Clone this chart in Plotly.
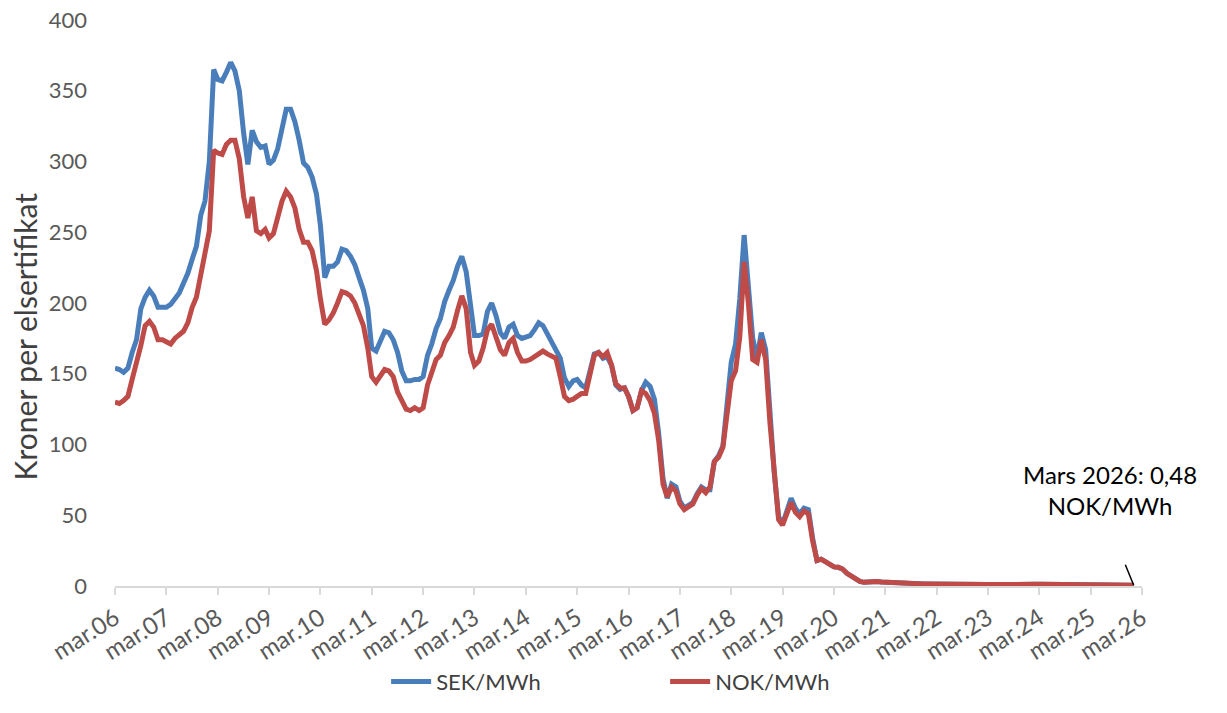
import pandas as pd
import plotly.graph_objects as go

# Monthly values from March 2006 onwards (kroner per elsertifikat)
sek_mwh = [
    154, 153, 151, 154, 165, 174, 196, 204, 209, 205, 197, 197,
    197, 199, 203, 207, 214, 221, 231, 240, 262, 272, 300, 365,
    358, 357, 363, 370, 364, 350, 320, 298, 322, 314, 310, 311,
    298, 301, 309, 322, 337, 337, 328, 315, 299, 296, 289, 277,
    255, 218, 226, 226, 229, 238, 237, 233, 227, 218, 209, 196,
    168, 166, 173, 180, 179, 174, 165, 152, 145, 145, 146, 146,
    148, 163, 171, 182, 189, 201, 209, 216, 226, 233, 222, 197,
    177, 177, 178, 194, 200, 191, 179, 175, 183, 185, 177, 175,
    176, 177, 181, 186, 184, 178, 173, 168, 161, 147, 141, 145,
    146, 142, 140, 152, 164, 165, 161, 162, 156, 142, 139, 140,
    134, 124, 126, 138, 144, 141, 132, 108, 76, 62, 72, 70,
    60, 55, 57, 59, 65, 70, 68, 68, 88, 92, 99, 130,
    158, 171, 203, 248, 215, 175, 161, 179, 167, 121, 80, 49,
    44, 53, 62, 55, 51, 55, 54, 34, 18, 19, 17, 15,
    13.5, 13.2, 12, 9, 7, 5, 3.3, 2.6, 3.0, 3.2, 3.1, 2.8,
    2.6, 2.4, 2.2, 2.0, 1.9, 1.8, 1.7, 1.6, 1.6, 1.5, 1.5, 1.4,
    1.4, 1.3, 1.3, 1.2, 1.1, 1.1, 1.0, 1.0, 0.9, 0.9, 0.9, 0.9,
    1.0, 1.0, 1.1, 1.1, 1.2, 1.2, 1.2, 1.2, 1.2, 1.2, 1.2, 1.2,
    1.2, 1.2, 1.2, 1.2, 1.2, 1.2, 1.2, 1.2, 1.2, 1.2, 1.2, 1.2,
    1.1, 1.0, 1.0, 0.9, 0.9, 0.8, 0.8, 0.7, 0.6, 0.6, 0.5,
]

nok_mwh = [
    130, 129, 131, 134, 146, 157, 170, 184, 187, 183, 174, 174,
    173, 171, 175, 177, 180, 186, 197, 204, 220, 231, 251, 308,
    306, 305, 312, 315, 315, 302, 275, 260, 275, 251, 249, 252,
    246, 249, 260, 272, 279, 275, 267, 252, 243, 243, 237, 223,
    203, 185, 188, 193, 200, 208, 207, 205, 200, 193, 184, 168,
    148, 144, 148, 153, 152, 148, 137, 131, 125, 124, 126, 124,
    126, 142, 152, 160, 163, 172, 177, 183, 195, 205, 196, 165,
    156, 159, 168, 181, 185, 177, 167, 163, 172, 175, 165, 159,
    159, 160, 162, 165, 166, 164, 162, 161, 148, 134, 131, 132,
    134, 136, 136, 148, 163, 165, 162, 165, 156, 143, 140, 140,
    134, 124, 126, 138, 136, 131, 122, 103, 72, 63, 70, 67,
    58, 54, 56, 58, 64, 69, 66, 70, 88, 91, 98, 125,
    145, 152, 176, 229, 200, 160, 158, 174, 160, 116, 77, 47,
    43, 51, 59, 52, 49, 53, 51, 32, 18, 19, 17, 15,
    13.5, 13.2, 12, 9, 7, 5, 3.3, 2.6, 3.0, 3.2, 3.1, 2.8,
    2.6, 2.4, 2.2, 2.0, 1.9, 1.8, 1.7, 1.6, 1.6, 1.5, 1.5, 1.4,
    1.4, 1.3, 1.3, 1.2, 1.1, 1.1, 1.0, 1.0, 0.9, 0.9, 0.9, 0.9,
    1.0, 1.0, 1.1, 1.1, 1.2, 1.2, 1.2, 1.2, 1.2, 1.2, 1.2, 1.2,
    1.2, 1.2, 1.2, 1.2, 1.2, 1.2, 1.2, 1.2, 1.2, 1.2, 1.2, 1.2,
    1.1, 1.0, 1.0, 0.9, 0.9, 0.8, 0.8, 0.7, 0.6, 0.6, 0.48,
]

start_month = "2006-03-01"
tick_dates = [f"{y}-03-01" for y in range(2006, 2027)]
tick_labels = [f"mar.{str(y)[2:]}" for y in range(2006, 2027)]

series_names = ["SEK/MWh", "NOK/MWh"]
series_colors = ["#4A7EBB", "#BE4B48"]

dates = pd.date_range(start_month, periods=len(sek_mwh), freq="MS")

font_family = "Lato, 'Open Sans', sans-serif"
tick_color = "#595959"

fig = go.Figure()
for name, vals, col in zip(series_names, [sek_mwh, nok_mwh], series_colors):
    fig.add_trace(go.Scatter(
        x=dates, y=vals, mode="lines", name=name,
        line=dict(color=col, width=5),
    ))

last_date = dates[-1]
last_val = nok_mwh[-1]

fig.add_annotation(
    x=last_date, y=last_val, xref="x", yref="y",
    text="", showarrow=True, arrowhead=0, arrowwidth=1.5,
    arrowcolor="black", ax=-9, ay=-22,
)
fig.add_annotation(
    x=last_date, y=68, xref="x", yref="y",
    text="Mars 2026: 0,48<br>NOK/MWh", showarrow=False,
    xshift=-24, font=dict(family=font_family, size=24, color="black"),
    align="center",
)
fig.add_annotation(
    x=0, y=0.441, xref="paper", yref="paper",
    xanchor="center", yanchor="middle", xshift=-90,
    text="Kroner per elsertifikat", textangle=-90, showarrow=False,
    font=dict(family=font_family, size=30, color="#404040"),
)

fig.update_layout(
    width=1227, height=713,
    margin=dict(l=115, r=85, t=20, b=126),
    paper_bgcolor="white", plot_bgcolor="white",
    font=dict(family=font_family, color=tick_color),
    showlegend=True,
    legend=dict(
        orientation="h", x=0.264, xanchor="left", y=-0.167, yanchor="middle",
        font=dict(size=22, color="#404040"),
        entrywidth=224, entrywidthmode="pixels", itemwidth=40,
    ),
    xaxis=dict(
        type="date", automargin=False,
        range=["2006-03-01", "2026-03-01"],
        tickvals=tick_dates, ticktext=tick_labels,
        tickangle=-32,
        showline=True, linecolor="#D9D9D9", linewidth=2,
        ticks="outside", ticklen=7, tickcolor="#D9D9D9", tickwidth=2,
        showgrid=False, zeroline=False,
        tickfont=dict(size=24, color=tick_color),
        ticklabeloverflow="allow",
    ),
    yaxis=dict(
        range=[0, 400], dtick=50, tick0=0, automargin=False,
        showline=False, showgrid=False, zeroline=False,
        ticks="", ticklabelstandoff=27,
        tickfont=dict(size=22, color=tick_color),
        ticklabeloverflow="allow",
    ),
)

# remove the browser's default 8px body margin so the figure fills the window
fig.write_html(
    "out.html",
    config={"displayModeBar": False},
    post_script="document.body.style.margin='0';",
)
